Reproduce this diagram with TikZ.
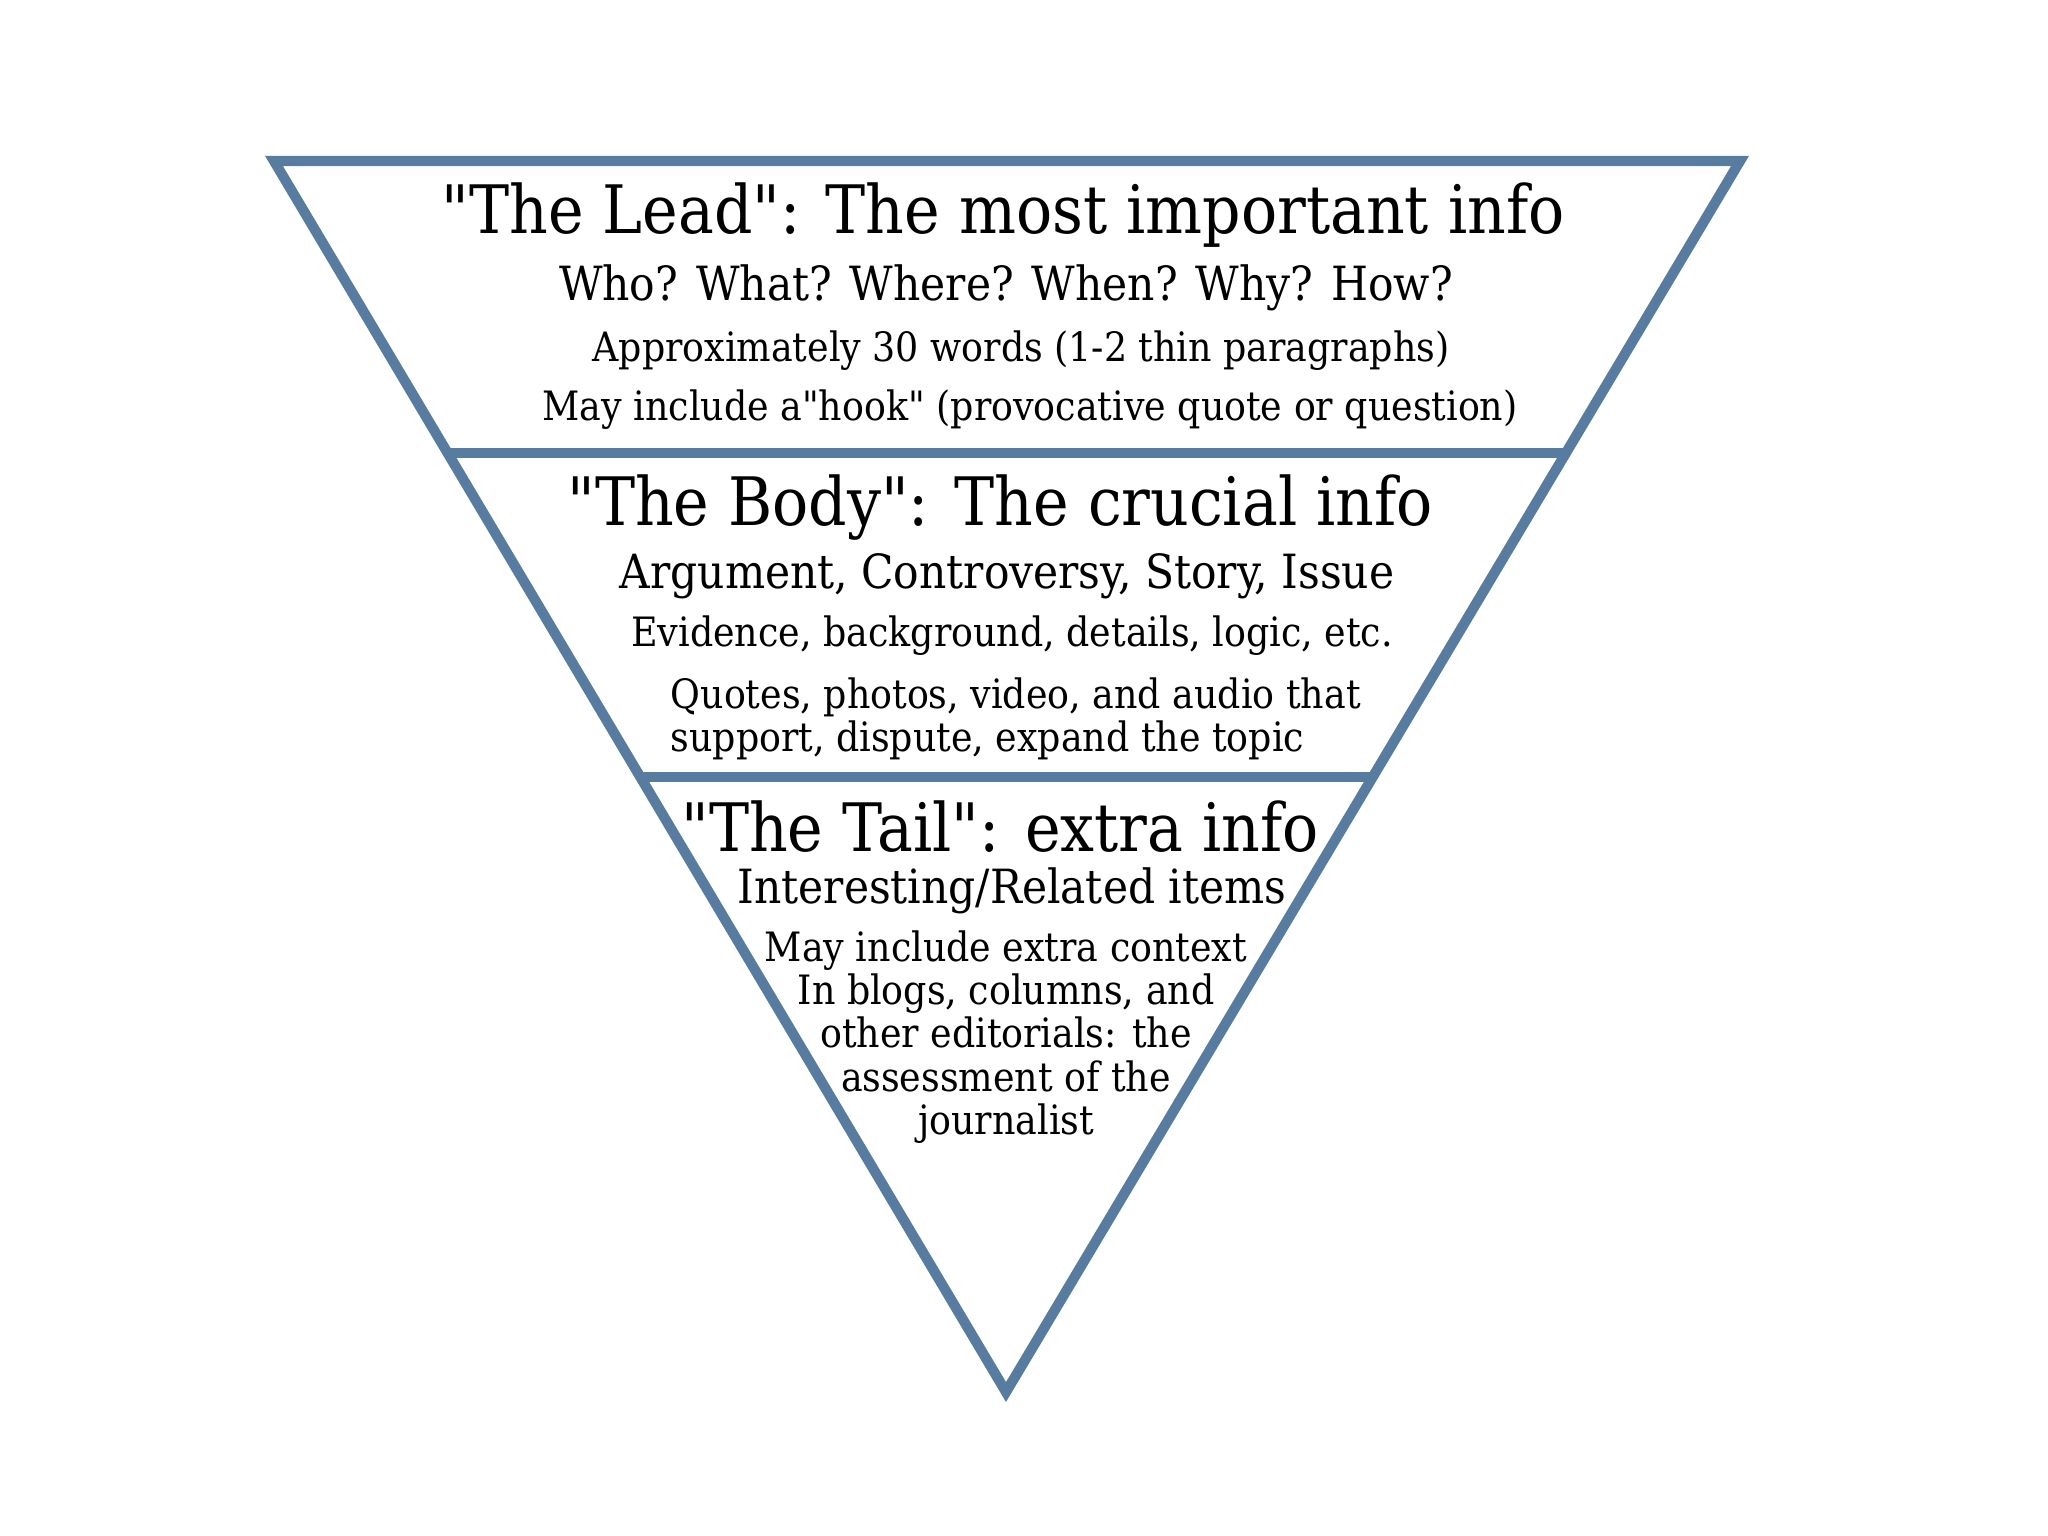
\documentclass[tikz,border=0pt]{standalone}
\usepackage{fontspec}
\setmainfont{DejaVu Serif Condensed}[Ligatures=TeXOff]
\usetikzlibrary{calc}
\definecolor{funnelblue}{RGB}{88,124,160}

\begin{document}
\begin{tikzpicture}[x=0.01cm,y=-0.01cm]

\tikzset{
  funnel/.style={draw=funnelblue,line width=2.9pt},
  headtext/.style={font=\fontsize{19pt}{22pt}\selectfont,inner sep=0pt},
  subtext/.style={font=\fontsize{13.4pt}{16pt}\selectfont,inner sep=0pt},
  smalltext/.style={font=\fontsize{11.5pt}{12.3pt}\selectfont,inner sep=0pt}
}

\useasboundingbox (0,0) rectangle (2048,1536);

\coordinate (tl) at (274,161);
\coordinate (tr) at (1740,161);
\coordinate (apex) at (1006,1392);

\draw[funnel] (tl) -- (tr) -- (apex) -- cycle;
\draw[funnel] ($(tl)!0.2372!(apex)$) -- ($(tr)!0.2372!(apex)$);
\draw[funnel] ($(tl)!0.5004!(apex)$) -- ($(tr)!0.5004!(apex)$);

% the lead
\node[headtext] (leadhead) at (1003,215) {"The Lead": The most important info};
\node[subtext] (leadwho) at (1006,288) {Who? What? Where? When? Why? How?};
\node[smalltext] (leadlen) at (1021,351) {Approximately 30 words (1-2 thin paragraphs)};
\node[smalltext] (leadhook) at (1030,410) {May include a"hook" (provocative quote or question)};

% the body
\node[headtext] (bodyhead) at (1000,508) {"The Body": The crucial info};
\node[subtext] (bodyargs) at (1007,576) {Argument, Controversy, Story, Issue};
\node[smalltext] (bodyevid) at (1012,636) {Evidence, background, details, logic, etc.};
\node[smalltext,align=left,anchor=west] (bodyquotes) at (670,719)
  {Quotes, photos, video, and audio that\\support, dispute, expand the topic};

% the tail
\node[headtext] (tailhead) at (1000,827) {"The Tail": extra info};
\node[subtext] (tailitems) at (1012,891) {Interesting/Related items};
\node[smalltext,align=center,anchor=north] (tailnotes) at (1006,930)
  {May include extra context\\In blogs, columns, and\\other editorials: the\\assessment of the\\journalist};

\end{tikzpicture}
\end{document}
